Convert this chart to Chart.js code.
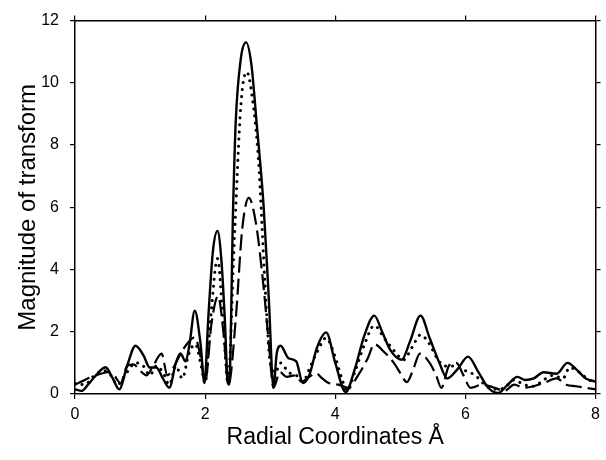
<!DOCTYPE html>
<html>
<head>
<meta charset="utf-8">
<script src="https://cdn.jsdelivr.net/npm/chart.js@4/dist/chart.umd.min.js"></script>
<style>
  html, body { margin: 0; padding: 0; background: #fff; }
</style>
</head>
<body>
<canvas id="ftChart" width="606" height="460"></canvas>
<script>
// radial coordinate (Å) and magnitude, one pair of arrays per curve
const solidR = [0, 0.1, 0.2, 0.3, 0.47, 0.58, 0.68, 0.8, 0.93, 1.05, 1.15, 1.25, 1.35, 1.45, 1.55, 1.62, 1.7, 1.76, 1.84, 1.93, 1.99, 2.05, 2.12, 2.19, 2.25, 2.3, 2.35, 2.37, 2.43, 2.47, 2.55, 2.63, 2.71, 2.79, 2.9, 2.98, 3.05, 3.1, 3.16, 3.28, 3.4, 3.5, 3.6, 3.72, 3.86, 4.0, 4.16, 4.3, 4.45, 4.6, 4.72, 4.85, 5.02, 5.15, 5.31, 5.45, 5.6, 5.72, 5.88, 6.04, 6.2, 6.35, 6.5, 6.65, 6.8, 6.92, 7.05, 7.2, 7.4, 7.57, 7.7, 7.85, 8.0];
const solidMag = [0.15, 0.1, 0.3, 0.55, 0.86, 0.5, 0.15, 0.9, 1.55, 1.25, 0.85, 0.85, 0.5, 0.2, 1.0, 1.3, 1.05, 1.6, 2.68, 1.6, 0.35, 2.5, 4.6, 5.24, 4.3, 2.5, 0.35, 0.3, 6.0, 8.75, 10.8, 11.3, 10.6, 8.75, 6.0, 3.0, 0.2, 1.3, 1.55, 1.15, 1.05, 0.35, 0.6, 1.5, 1.98, 1.0, 0.06, 0.8, 1.9, 2.52, 2.0, 1.4, 1.1, 1.7, 2.52, 1.8, 1.0, 0.5, 0.8, 1.2, 0.7, 0.2, 0.03, 0.3, 0.55, 0.45, 0.5, 0.7, 0.65, 1.0, 0.8, 0.5, 0.4];

const dotR = [0, 0.15, 0.3, 0.45, 0.55, 0.65, 0.8, 0.93, 1.05, 1.15, 1.25, 1.35, 1.45, 1.55, 1.65, 1.75, 1.85, 1.93, 2.0, 2.08, 2.19, 2.28, 2.35, 2.45, 2.55, 2.64, 2.72, 2.82, 2.92, 3.0, 3.08, 3.16, 3.28, 3.4, 3.5, 3.62, 3.72, 3.86, 3.98, 4.1, 4.18, 4.3, 4.45, 4.6, 4.75, 4.9, 5.05, 5.18, 5.31, 5.45, 5.55, 5.68, 5.85, 6.0, 6.15, 6.3, 6.45, 6.6, 6.75, 6.9, 7.05, 7.2, 7.35, 7.5, 7.6, 7.75, 7.9, 8.0];
const dotMag = [0.35, 0.3, 0.6, 0.75, 0.6, 0.3, 0.7, 1.0, 0.9, 0.6, 0.9, 0.7, 0.3, 0.9, 0.5, 1.3, 1.6, 1.0, 0.35, 2.3, 4.35, 2.2, 0.35, 5.0, 9.3, 10.35, 9.6, 7.5, 3.5, 1.0, 0.7, 1.0, 0.7, 0.6, 0.4, 0.9, 1.35, 1.8, 1.3, 0.5, 0.1, 0.7, 1.6, 2.2, 1.8, 1.4, 1.1, 1.5, 1.9, 1.6, 1.2, 0.9, 0.9, 0.75, 0.6, 0.3, 0.15, 0.2, 0.45, 0.3, 0.25, 0.45, 0.6, 0.5, 0.85, 0.7, 0.45, 0.4];

const dashR = [0, 0.25, 0.4, 0.5, 0.6, 0.7, 0.8, 0.9, 1.0, 1.1, 1.2, 1.33, 1.42, 1.5, 1.6, 1.7, 1.84, 1.93, 2.0, 2.1, 2.2, 2.28, 2.36, 2.47, 2.57, 2.67, 2.78, 2.9, 2.98, 3.05, 3.15, 3.25, 3.38, 3.48, 3.6, 3.7, 3.8, 3.9, 4.05, 4.2, 4.35, 4.5, 4.6, 4.75, 4.9, 5.0, 5.1, 5.2, 5.3, 5.45, 5.55, 5.63, 5.75, 5.86, 5.97, 6.08, 6.26, 6.45, 6.6, 6.75, 6.9, 7.05, 7.2, 7.4, 7.55, 7.7, 7.85, 8.0];
const dashMag = [0.3, 0.55, 0.65, 0.7, 0.6, 0.35, 0.9, 0.95, 0.75, 0.6, 0.9, 1.3, 0.6, 0.8, 1.2, 1.55, 1.82, 1.2, 0.4, 2.3, 3.15, 2.0, 0.3, 2.4, 5.3, 6.3, 5.5, 3.4, 1.6, 0.2, 0.7, 0.55, 0.6, 0.4, 0.55, 0.67, 0.5, 0.35, 0.3, 0.2, 0.6, 1.15, 1.6, 1.35, 1.0, 0.67, 0.38, 0.8, 1.3, 1.0, 0.6, 0.2, 0.92, 1.0, 0.6, 0.2, 0.3, 0.2, 0.1, 0.3, 0.2, 0.25, 0.35, 0.5, 0.3, 0.25, 0.2, 0.15];

const xTicks = [0, 2, 4, 6, 8];
const yTicks = [0, 2, 4, 6, 8, 10, 12];

function pairs(xs, ys) {
  return xs.map((x, i) => ({ x: x, y: ys[i] }));
}

const fontFam = '"Liberation Sans", Arial, sans-serif';

function frameAxis(position, size, showLabels, extra) {
  return Object.assign({
    type: 'linear',
    position: position,
    grid: { display: true, drawOnChartArea: false, drawTicks: true, tickLength: 5, color: '#000', lineWidth: 1.2 },
    border: { display: true, color: '#000', width: 1.5 },
    ticks: { display: showLabels, color: '#000', font: { family: fontFam, size: 16 }, padding: position === 'left' ? 11 : 6 },
    afterFit: function(scale) {
      if (scale.isHorizontal()) scale.height = size; else scale.width = size;
    }
  }, extra);
}

const ctx = document.getElementById('ftChart').getContext('2d');
new Chart(ctx, {
  type: 'line',
  data: {
    datasets: [
      {
        label: 'solid',
        data: pairs(solidR, solidMag),
        borderColor: '#000',
        borderWidth: 2.4,
        pointRadius: 0,
        cubicInterpolationMode: 'monotone',
        fill: false
      },
      {
        label: 'dotted',
        data: pairs(dotR, dotMag),
        borderColor: '#000',
        borderWidth: 3,
        borderDash: [0.1, 7],
        borderCapStyle: 'round',
        pointRadius: 0,
        cubicInterpolationMode: 'monotone',
        fill: false
      },
      {
        label: 'dashed',
        data: pairs(dashR, dashMag),
        borderColor: '#000',
        borderWidth: 2.2,
        borderDash: [16, 6],
        pointRadius: 0,
        cubicInterpolationMode: 'monotone',
        fill: false
      }
    ]
  },
  options: {
    responsive: false,
    animation: false,
    layout: { padding: 0 },
    plugins: { legend: { display: false }, tooltip: { enabled: false } },
    scales: {
      x: frameAxis('bottom', 66, true, {
        min: 0, max: 8,
        afterBuildTicks: s => { s.ticks = xTicks.map(v => ({ value: v })); },
        title: { display: true, text: 'Radial Coordinates Å', color: '#000', font: { family: fontFam, size: 23 }, padding: { top: 4, bottom: 9 } }
      }),
      xTop: frameAxis('top', 18, false, {
        min: 0, max: 8,
        afterBuildTicks: s => { s.ticks = xTicks.map(v => ({ value: v })); }
      }),
      y: frameAxis('left', 75, true, {
        min: 0, max: 12,
        afterBuildTicks: s => { s.ticks = yTicks.map(v => ({ value: v })); },
        title: { display: true, text: 'Magnitude of transform', color: '#000', font: { family: fontFam, size: 24 }, padding: { top: 14, bottom: 4 } }
      }),
      yRight: frameAxis('right', 5, false, {
        min: 0, max: 12,
        afterBuildTicks: s => { s.ticks = yTicks.map(v => ({ value: v })); }
      })
    }
  }
});
</script>
</body>
</html>
